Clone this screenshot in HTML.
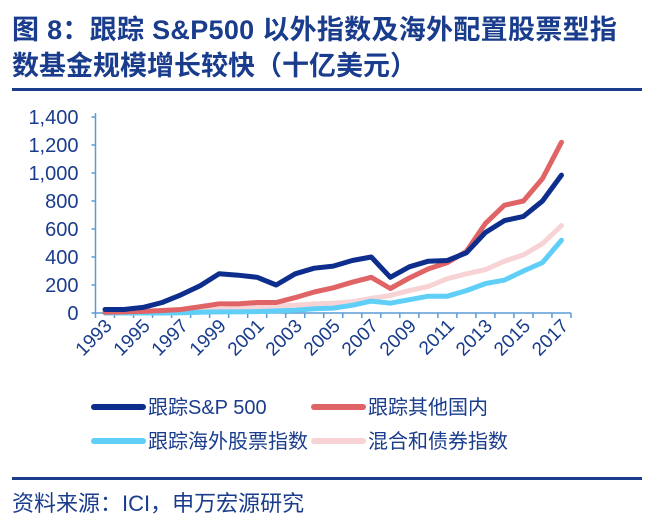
<!DOCTYPE html>
<html><head><meta charset="utf-8"><style>
body{margin:0;background:#fff;width:661px;height:528px;overflow:hidden;font-family:"Liberation Sans","Noto Sans CJK SC",sans-serif}
.t{position:absolute;left:12px;color:#1a3c8c;font-weight:bold;font-size:27px;line-height:34px;font-family:"Liberation Sans","Noto Sans CJK SC",sans-serif;white-space:nowrap}
</style></head><body>
<div class="t" style="top:13px;letter-spacing:0.3px">图 8：跟踪 S&amp;P500 以外指数及海外配置股票型指</div>
<div class="t" style="top:49px">数基金规模增长较快（十亿美元）</div>
<div style="position:absolute;left:12px;top:88px;width:630px;height:3px;background:#1a3c8c"></div>
<svg id="c" width="661" height="528" style="position:absolute;left:0;top:0"></svg>
<div style="position:absolute;left:12px;top:477px;width:630px;height:3px;background:#1a3c8c"></div>
<div style="position:absolute;left:12px;top:486px;font-size:22px;color:#1a3c8c;font-family:'Liberation Sans','Noto Sans CJK SC',sans-serif">资料来源：ICI，申万宏源研究</div>
<script>
const years=[1993,1994,1995,1996,1997,1998,1999,2000,2001,2002,2003,2004,2005,2006,2007,2008,2009,2010,2011,2012,2013,2014,2015,2016,2017];
const sp500=[25,25,40,75,130,195,280,270,255,200,280,320,335,375,400,255,330,370,375,430,575,660,690,800,985];
const otherDomestic=[5,8,12,18,25,45,65,65,75,75,110,150,180,220,255,175,250,315,360,440,640,770,800,960,1220];
const foreignEquity=[0,0,0,0,2,5,8,8,10,15,20,30,35,55,85,70,95,120,120,160,210,235,300,360,520];
const hybridBond=[5,5,8,10,15,20,25,30,40,50,55,65,70,80,105,125,160,190,245,280,310,370,415,495,625];
const yTicks=[0,200,400,600,800,1000,1200,1400];
const yTickLabels=["0","200","400","600","800","1,000","1,200","1,400"];
const seriesNames=["跟踪S&P 500","跟踪其他国内","跟踪海外股票指数","混合和债券指数"];
const svg=document.getElementById('c'),NS='http://www.w3.org/2000/svg';
const x0=95.5,x1=571,y0=313,y1=117,yMax=1400;
const bw=(x1-x0)/years.length;
const xs=i=>x0+bw*(i+0.5), ys=v=>y0-(v/yMax)*(y0-y1);
function mk(t,a){const e=document.createElementNS(NS,t);for(const k in a)e.setAttribute(k,a[k]);svg.appendChild(e);return e;}
const axc='#5b9bd5',tc='#1a3c8c';
let e=mk('line',{x1:x0,y1:y1-4,x2:x0,y2:y0+1,stroke:axc,'stroke-width':1.5});

e=mk('line',{x1:x0,y1:y0,x2:x1,y2:y0,stroke:axc,'stroke-width':1.5});

yTicks.forEach((v,i)=>{
 mk('line',{x1:x0-4,y1:ys(v),x2:x0,y2:ys(v),stroke:axc,'stroke-width':1.5});
 const t=mk('text',{x:x0-17,y:ys(v)+7,'text-anchor':'end','font-size':20,fill:tc,'font-family':'Liberation Sans, sans-serif'});
 t.textContent=yTickLabels[i];
 
 
});
years.forEach((y,i)=>{
 const xx=x0+bw*i;
 mk('line',{x1:xx,y1:y0,x2:xx,y2:y0+5,stroke:axc,'stroke-width':1.5});
 if(i%2===0){
  const cx=xs(i)+8,cy=y0+14;
  const t=mk('text',{x:cx,y:cy,'text-anchor':'end','font-size':19,fill:tc,'font-family':'Liberation Sans, sans-serif',transform:`rotate(-45 ${cx} ${cy})`});
  t.textContent=y;
  
  
 }
});
mk('line',{x1:x1,y1:y0,x2:x1,y2:y0+5,stroke:axc,'stroke-width':1.5});
const series=[[hybridBond,'#f7d3d6','hybrid-bond-line'],[foreignEquity,'#5fcff7','foreign-equity-line'],[otherDomestic,'#e06466','other-domestic-line'],[sp500,'#0d2e8c','sp500-line']];
series.forEach(([d,c,n])=>{
 const p=mk('polyline',{points:d.map((v,i)=>xs(i)+','+ys(v)).join(' '),fill:'none',stroke:c,'stroke-width':5,'stroke-linejoin':'round','stroke-linecap':'round'});
 
 
});
const leg=[[94,407,'#0d2e8c',0],[314,407,'#e06466',1],[94,441,'#5fcff7',2],[314,441,'#f7d3d6',3]];
leg.forEach(([lx,ly,c,k])=>{
 const l=mk('line',{x1:lx,y1:ly,x2:lx+49,y2:ly,stroke:c,'stroke-width':6,'stroke-linecap':'round'});
 
 
 const t=mk('text',{x:lx+54,y:ly+7,'font-size':20,fill:tc,'font-family':'Liberation Sans, Noto Sans CJK SC, sans-serif'});
 t.textContent=seriesNames[k];
 
 
});
</script>
</body></html>
